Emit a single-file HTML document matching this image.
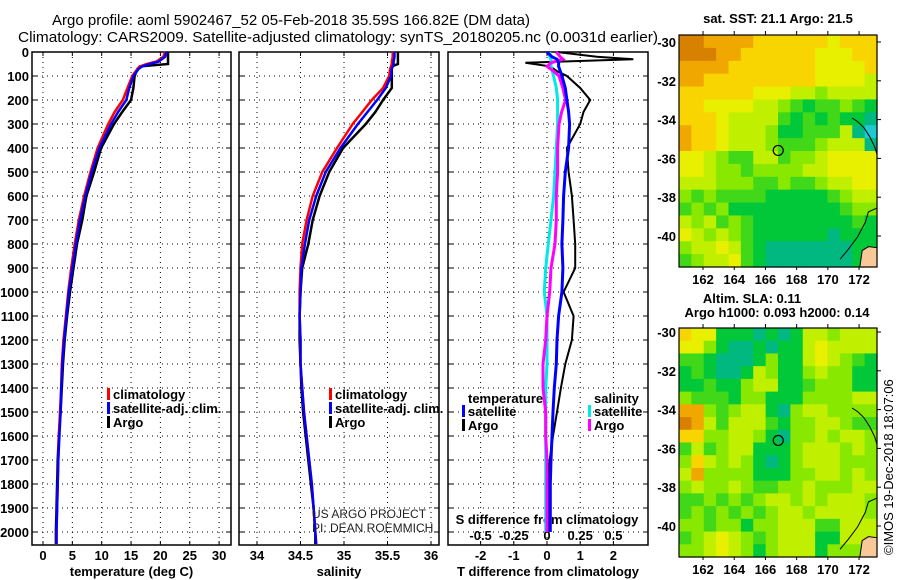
<!DOCTYPE html>
<html><head><meta charset="utf-8"><style>
html,body{margin:0;padding:0;background:#fff;}
svg{display:block;font-family:"Liberation Sans",sans-serif;}
.tk{font-size:13px;font-weight:bold;fill:#000;}
</style></head><body>
<svg id="chart" width="900" height="580" viewBox="0 0 900 580" xmlns="http://www.w3.org/2000/svg">
<rect width="900" height="580" fill="#fff"/>
<text x="52" y="25" font-size="15" textLength="478" lengthAdjust="spacingAndGlyphs">Argo profile: aoml 5902467_52 05-Feb-2018 35.59S 166.82E (DM data)</text>
<text x="18" y="42" font-size="15" textLength="640" lengthAdjust="spacingAndGlyphs">Climatology: CARS2009. Satellite-adjusted climatology: synTS_20180205.nc (0.0031d earlier)</text>
<g id="g1"></g>
<g id="g2"></g>
<g id="g3"></g>
<g id="m1"></g>
<g id="m2"></g>
<text x="312" y="518" font-size="12" fill="#222">US ARGO PROJECT</text>
<text x="312" y="532" font-size="12" fill="#222">PI: DEAN ROEMMICH</text>
<text x="778" y="23" class="tk" text-anchor="middle">sat. SST: 21.1 Argo: 21.5</text>
<text x="752" y="303" class="tk" text-anchor="middle">Altim. SLA: 0.11</text>
<text x="777" y="317" class="tk" text-anchor="middle">Argo h1000: 0.093 h2000: 0.14</text>
<text transform="translate(893,555) rotate(-90)" font-size="13">©IMOS 19-Dec-2018 18:07:06</text>
</svg>
<script>
// ---- data ----
const depths = [0,20,40,50,60,70,100,150,200,250,300,400,500,600,700,800,900,1000,1100,1200,1300,1400,1500,1600,1700,1800,1900,2000,2050];
const tempArgo = [21.3,21.3,21.3,21.3,16.5,16.1,15.6,15.4,15.0,13.5,12.1,9.9,8.7,7.4,6.7,5.8,5.2,4.6,4.1,3.7,3.4,3.2,3.0,2.7,2.5,2.4,2.3,2.2,2.2];
const tempClim = [20.8,20.5,19.3,17.7,16.5,16.1,15.2,14.4,13.6,12.2,11.1,9.3,8.1,7.0,6.1,5.4,4.8,4.3,3.9,3.5,3.2,3.1,2.9,2.7,2.6,2.5,2.4,2.3,2.3];
const tempSat = [21.0,20.8,19.7,18.2,16.9,16.3,15.4,14.7,14.2,12.8,11.6,9.6,8.3,7.2,6.3,5.6,5.0,4.4,4.0,3.6,3.3,3.1,3.0,2.8,2.6,2.5,2.4,2.3,2.3];
const salArgo = [35.62,35.62,35.62,35.62,35.55,35.55,35.55,35.55,35.45,35.36,35.25,34.99,34.83,34.72,34.64,34.59,34.52,34.5,34.49,34.49,34.5,34.51,34.53,34.56,34.59,34.62,34.65,34.67,34.67];
const salClim = [35.56,35.56,35.55,35.55,35.54,35.53,35.52,35.45,35.32,35.21,35.1,34.92,34.75,34.64,34.57,34.52,34.5,34.49,34.49,34.5,34.5,34.52,34.54,34.57,34.6,34.63,34.65,34.67,34.68];
const salSat = [35.58,35.58,35.57,35.57,35.56,35.55,35.54,35.48,35.38,35.27,35.16,34.96,34.79,34.68,34.6,34.55,34.51,34.5,34.49,34.5,34.5,34.52,34.54,34.57,34.6,34.63,34.65,34.67,34.68];
const diffDepths = [0,20,30,45,60,80,100,150,200,250,300,400,500,600,700,800,900,1000,1100,1200,1300,1400,1500,1600,1700,1800,1900,2000];
const dTArgo = [0.3,1.5,2.6,-0.65,0.1,0.3,0.6,1.0,1.3,1.1,1.0,0.6,0.65,0.75,0.8,0.85,0.85,0.5,0.8,0.75,0.55,0.42,0.3,0.18,0.08,0.05,0.03,0.03];
const dTSat = [0.0,0.15,0.3,0.35,0.35,0.4,0.45,0.55,0.6,0.65,0.68,0.65,0.55,0.5,0.48,0.45,0.48,0.45,0.35,0.3,0.28,0.22,0.18,0.15,0.12,0.1,0.1,0.1];
const dSSat = [0.02,0.02,0.03,0.03,0.03,0.04,0.05,0.07,0.08,0.08,0.08,0.07,0.06,0.05,0.03,0.01,-0.01,-0.02,0.0,0.0,0.0,-0.01,-0.01,-0.01,-0.01,-0.01,-0.01,-0.01];
const dSArgo = [0.07,0.1,0.12,0.03,0.0,0.05,0.09,0.12,0.14,0.11,0.09,0.08,0.08,0.07,0.07,0.06,0.03,0.02,0.0,-0.01,-0.03,-0.03,-0.01,-0.01,0.0,0.0,0.0,0.0];
const depthTicks = [0,100,200,300,400,500,600,700,800,900,1000,1100,1200,1300,1400,1500,1600,1700,1800,1900,2000];
const tTicks = [0,5,10,15,20,25,30];
const sTicks = [34,34.5,35,35.5,36];
const sTickLabels = ["34","34.5","35","35.5","36"];
const dTTicks = [-2,-1,0,1,2];
const dSTicks = [-0.5,-0.25,0,0.25,0.5];
const dSTickLabels = ["-0.5","-0.25","0","0.25","0.5"];
const lonTicks = [162,164,166,168,170,172];
const latTicks = [-30,-32,-34,-36,-38,-40];
const argoLon = 166.82, argoLat = -35.59;
const sstGrid = [
"9988887777776777","9998877777766677","8888777777766667","8877777777766665",
"7777776665545555","7766665543233432","7776555532323221","8776555422333510",
"8776555433345551","6654335534456666","6654434444556666","5554443343345566",
"4343333222223455","3434222222222344","5453432222222232","6545432222221222",
"4556532111111122","345563211111112L"];
const slaGrid = [
"7662221212554555","6642112122565555","3321112422565432","2321125422454422",
"2232245522344422","4333244222444455","8843455214554444","9853555324455433",
"7744554214454554","3534552224555454","4754542124555444","5844442224455454",
"4544543344544455","3343434554545554","3434343455455554","4434424455533555",
"3456543455522555","445654245552444L"];
const palette = {"0":"#20c8d0","1":"#00b880","2":"#00c838","3":"#40d818","4":"#88e800","5":"#c0f000","6":"#e8f000","7":"#f8d400","8":"#f0a800","9":"#d88000","L":"#f8c898"};

// ---- helpers ----
const NS="http://www.w3.org/2000/svg";
function mk(parent,tag,attrs){const e=document.createElementNS(NS,tag);for(const k in attrs)e.setAttribute(k,attrs[k]);parent.appendChild(e);return e;}
const Y0=52,Y1=545,DMAX=(545-52)/0.24;
const yD=d=>Y0+(d/DMAX)*(Y1-Y0);

function panel(g,x0,x1,xmin,xmax,xt,xtl,title,leftLabels){
  const sx=v=>x0+(v-xmin)/(xmax-xmin)*(x1-x0);
  xt.forEach((v,i)=>{const x=sx(v);
    const l=mk(g,'line',{x1:x,x2:x,y1:Y0,y2:Y1,stroke:'#000','stroke-width':1,'stroke-dasharray':'1,4'});
    
    
    if(xtl){const t=mk(g,'text',{x:x,y:560,'text-anchor':'middle',class:'tk'});t.textContent=xtl[i];
    
    }
    mk(g,'line',{x1:x,x2:x,y1:Y0,y2:Y0+4,stroke:'#000'});mk(g,'line',{x1:x,x2:x,y1:Y1,y2:Y1-4,stroke:'#000'});
  });
  depthTicks.forEach(d=>{const y=yD(d);
    const l=mk(g,'line',{x1:x0,x2:x1,y1:y,y2:y,stroke:'#000','stroke-width':1,'stroke-dasharray':'1,4'});
    
    
    mk(g,'line',{x1:x0,x2:x0+5,y1:y,y2:y,stroke:'#000'});mk(g,'line',{x1:x1,x2:x1-5,y1:y,y2:y,stroke:'#000'});
    if(leftLabels){const t=mk(g,'text',{x:29,y:y+5,'text-anchor':'end',class:'tk'});t.textContent=d;
      
      }
  });
  const f=mk(g,'rect',{x:x0,y:Y0,width:x1-x0,height:Y1-Y0,fill:'none',stroke:'#000','stroke-width':1.5});
  
  
  const tt=mk(g,'text',{x:(x0+x1)/2,y:576,'text-anchor':'middle',class:'tk'});tt.textContent=title;
  
  
  return sx;
}
function series(g,sx,vals,ds,color,w,name){
  const pts=vals.map((v,i)=>sx(v).toFixed(1)+','+yD(ds[i]).toFixed(1)).join(' ');
  const p=mk(g,'polyline',{points:pts,fill:'none',stroke:color,'stroke-width':w,'stroke-linejoin':'miter'});
  
  
}
function legend(g,x,y,color,label,name){
  if(color)mk(g,'rect',{x:x-6,y:y-10,width:3,height:12,fill:color});
  const t=mk(g,'text',{x:x,y:y+1,class:'tk'});t.textContent=label;
  
  
}

// temperature
const g1=document.getElementById('g1');
const sx1=panel(g1,32,231,-1.874,32.03,tTicks,tTicks.map(String),'temperature (deg C)',true);
series(g1,sx1,tempArgo,depths,'#000',2.5,'argo-temperature-line');
series(g1,sx1,tempClim,depths,'#f00',2.5,'climatology-temperature-line');
series(g1,sx1,tempSat,depths,'#00f',2.5,'satellite-temperature-line');
legend(g1,113,398,'#f00','climatology','legend-climatology');
legend(g1,113,412,'#00f','satellite-adj. clim.','legend-satellite');
legend(g1,113,426,'#000','Argo','legend-argo');
// salinity
const g2=document.getElementById('g2');
const sx2=panel(g2,239,439,33.793,36.092,sTicks,sTickLabels,'salinity',false);
series(g2,sx2,salArgo,depths,'#000',2.5,'argo-salinity-line');
series(g2,sx2,salClim,depths,'#f00',2.5,'climatology-salinity-line');
series(g2,sx2,salSat,depths,'#00f',2.5,'satellite-salinity-line');
legend(g2,335,398,'#f00','climatology','legend-climatology');
legend(g2,335,412,'#00f','satellite-adj. clim.','legend-satellite');
legend(g2,335,426,'#000','Argo','legend-argo');
// difference
const g3=document.getElementById('g3');
const sx3=panel(g3,448,648,-2.982,3.042,dTTicks,dTTicks.map(String),'T difference from climatology',false);
const sxS=v=>sx3(v*4);
dSTicks.forEach((v,i)=>{const t=mk(g3,'text',{x:sxS(v),y:540,'text-anchor':'middle',class:'tk'});t.textContent=dSTickLabels[i];
  
  });
{const t=mk(g3,'text',{x:547,y:524,'text-anchor':'middle',class:'tk'});t.textContent='S difference from climatology';
 
 }
series(g3,sx3,dTArgo,diffDepths,'#000',2,'argo-t-diff-line');
series(g3,sxS,dSSat,diffDepths,'#00e8e8',3,'satellite-s-diff-line');
series(g3,sxS,dSArgo,diffDepths,'#f0f',3,'argo-s-diff-line');
series(g3,sx3,dTSat,diffDepths,'#00f',3,'satellite-t-diff-line');
legend(g3,468,402,null,'temperature','legend-temperature-heading');
legend(g3,468,415,'#00f','satellite','legend-t-satellite');
legend(g3,468,429,'#000','Argo','legend-t-argo');
legend(g3,594,402,null,'salinity','legend-salinity-heading');
legend(g3,594,415,'#00e8e8','satellite','legend-s-satellite');
legend(g3,594,429,'#f0f','Argo','legend-s-argo');

// maps
function drawMap(g,top,bottom,lat30,lat40,grid){
  const L=679,R=877,lonA=160.46,lonB=173.15;
  const sx=lon=>L+(lon-lonA)/(lonB-lonA)*(R-L);
  const sy=lat=>lat30+(-30-lat)/10*(lat40-lat30);
  const rows=grid.length,cols=grid[0].length,cw=(R-L)/cols,ch=(bottom-top)/rows;
  grid.forEach((row,r)=>{[...row].forEach((c,k)=>{
    const cell=mk(g,'rect',{x:(L+k*cw).toFixed(2),y:(top+r*ch).toFixed(2),width:(cw+0.6).toFixed(2),height:(ch+0.6).toFixed(2),fill:palette[c]});
    
    
  });});
  const ln=(pts)=>mk(g,'polyline',{points:pts.map(p=>sx(p[0]).toFixed(1)+','+sy(p[1]).toFixed(1)).join(' '),fill:'none',stroke:'#000','stroke-width':1});
  const c1=ln([[171.55,-33.92],[171.9,-34.1],[172.3,-34.4],[172.7,-34.9],[173.0,-35.4],[173.15,-35.8]]);
  
  
  const c2=ln([[173.15,-38.56],[172.6,-38.76],[172.4,-39.3],[171.9,-40.05],[171.3,-40.7],[170.78,-41.2]]);
  
  
  mk(g,'path',{d:`M${sx(172.05)},${bottom} L${sx(172.2)},${sy(-40.75)} L${sx(172.6)},${sy(-40.55)} L${sx(173.15)},${sy(-40.6)} L${sx(173.15)},${bottom} Z`,fill:'#f8c898',stroke:'#000','stroke-width':1});
  const circ=mk(g,'circle',{cx:sx(argoLon),cy:sy(argoLat),r:5,fill:'none',stroke:'#000','stroke-width':1.2});
  
  
  const fr=mk(g,'rect',{x:L,y:top,width:R-L,height:bottom-top,fill:'none',stroke:'#000','stroke-width':1.2});
  
  
  lonTicks.forEach(v=>{const x=sx(v);mk(g,'line',{x1:x,x2:x,y1:top,y2:top-4,stroke:'#000'});mk(g,'line',{x1:x,x2:x,y1:bottom,y2:bottom+3,stroke:'#000'});
    const t=mk(g,'text',{x:x,y:bottom+17,'text-anchor':'middle',class:'tk'});t.textContent=v;
    
    });
  latTicks.forEach(v=>{const y=sy(v);mk(g,'line',{x1:R,x2:R+4,y1:y,y2:y,stroke:'#000'});
    const t=mk(g,'text',{x:676,y:y+5,'text-anchor':'end',class:'tk'});t.textContent=v;
    
    });
}
drawMap(document.getElementById('m1'),35,267,42,236,sstGrid);
drawMap(document.getElementById('m2'),328,557,332,526,slaGrid);
</script>
</body></html>
